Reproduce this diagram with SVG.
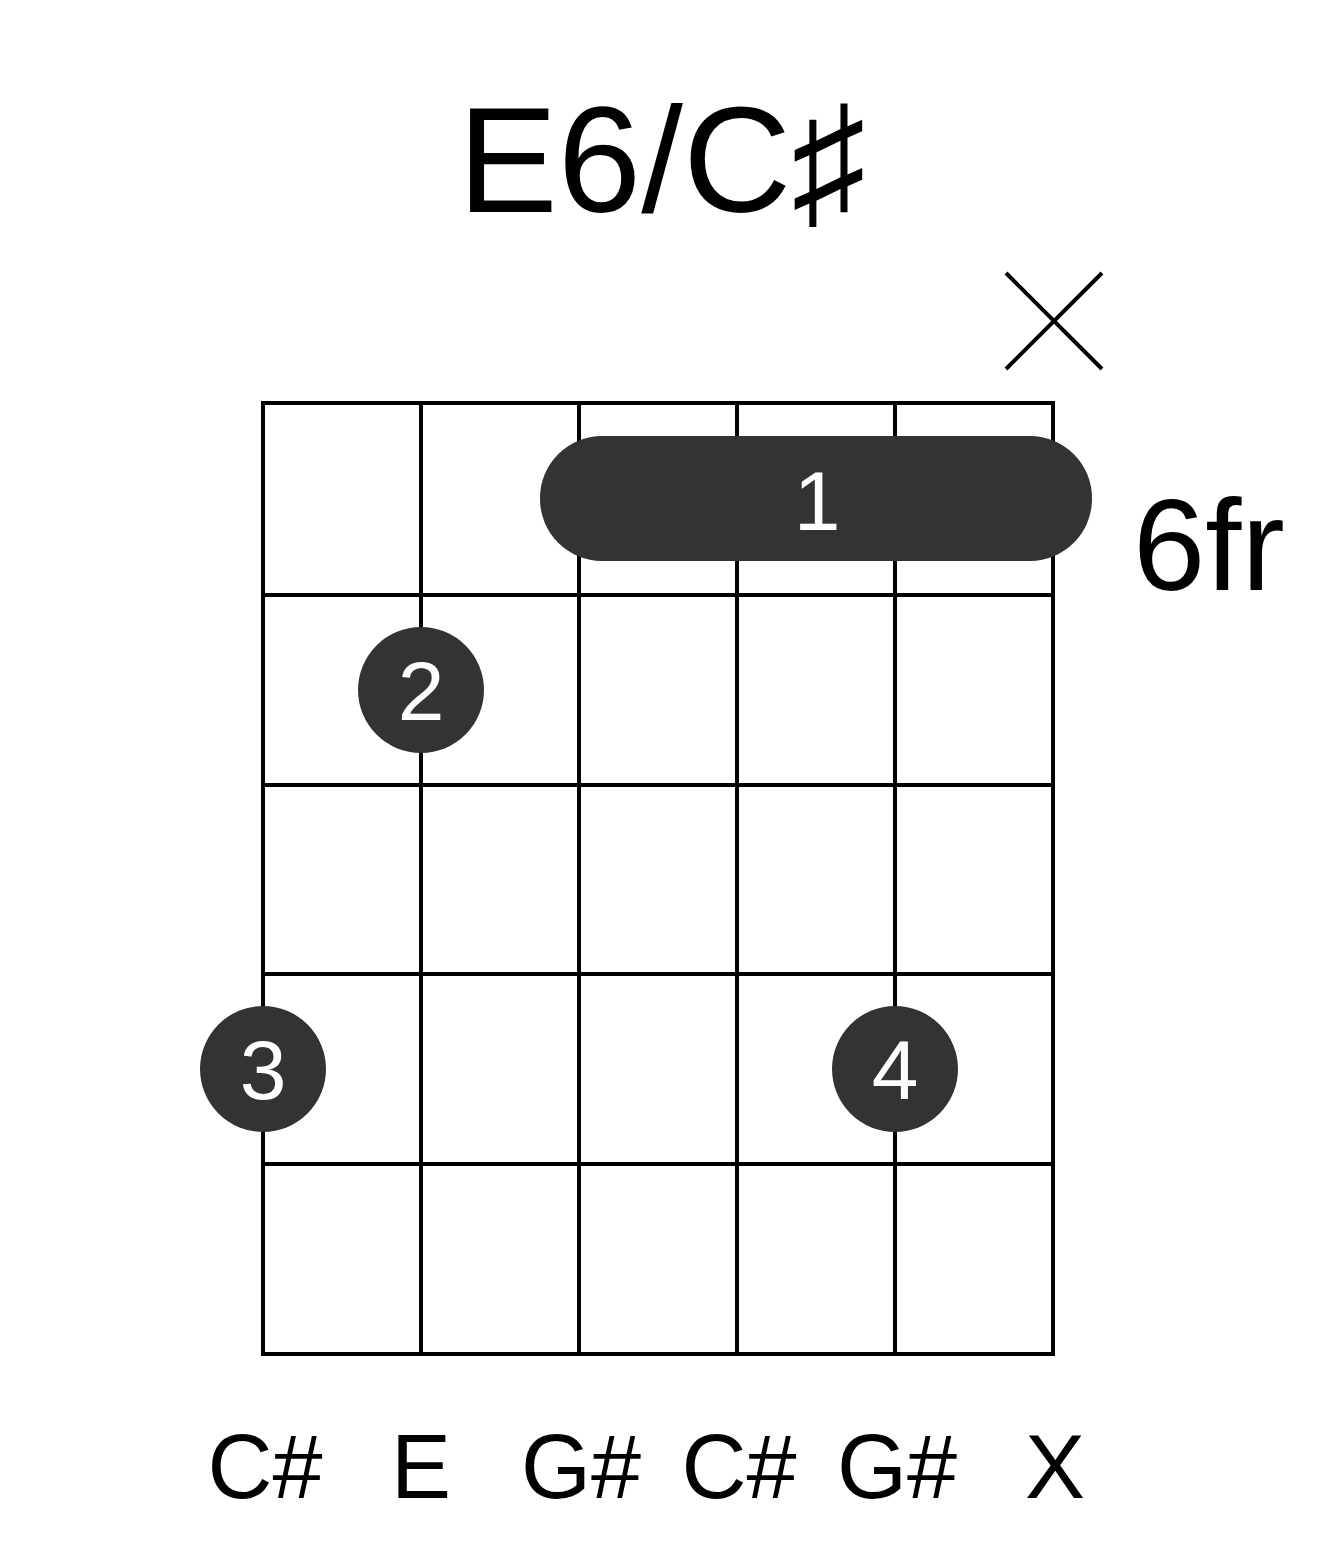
<svg xmlns="http://www.w3.org/2000/svg" width="1317" height="1551" viewBox="0 0 1317 1551">
<style>
.g{stroke:#000;stroke-width:4;fill:none}
.d{fill:#333}
.t{font-family:"Liberation Sans",Arial,sans-serif;fill:#000}
.w{font-family:"Liberation Sans",Arial,sans-serif;fill:#fff;font-size:84px;text-anchor:middle}
.n{font-size:90px;text-anchor:middle}
</style>
<rect width="1317" height="1551" fill="#fff"/>
<text class="t" x="662" y="212" font-size="150" text-anchor="middle">E6/C♯</text>
<g id="mute"><path class="g" d="M1006 273L1102 369M1102 273L1006 369"/></g>
<g id="grid" class="g">
<rect x="263" y="403" width="790" height="951"/>
<path d="M421 403V1354M579 403V1354M737 403V1354M895 403V1354M263 595H1053M263 785H1053M263 974H1053M263 1164H1053"/>
</g>
<g id="barre"><rect class="d" x="540" y="436" width="552" height="125" rx="62"/><text class="w" x="817" y="530">1</text></g>
<g id="f2"><circle class="d" cx="421" cy="690" r="63"/><text class="w" x="421" y="720">2</text></g>
<g id="f3"><circle class="d" cx="263" cy="1069" r="63"/><text class="w" x="263" y="1099">3</text></g>
<g id="f4"><circle class="d" cx="895" cy="1069" r="63"/><text class="w" x="895" y="1099">4</text></g>
<text class="t" x="1133" y="590" font-size="130">6fr</text>
<g id="notes">
<text class="t n" x="265" y="1498">C#</text>
<text class="t n" x="421" y="1498">E</text>
<text class="t n" x="581" y="1498">G#</text>
<text class="t n" x="739" y="1498">C#</text>
<text class="t n" x="897" y="1498">G#</text>
<text class="t n" x="1055" y="1498">X</text>
</g>
</svg>
